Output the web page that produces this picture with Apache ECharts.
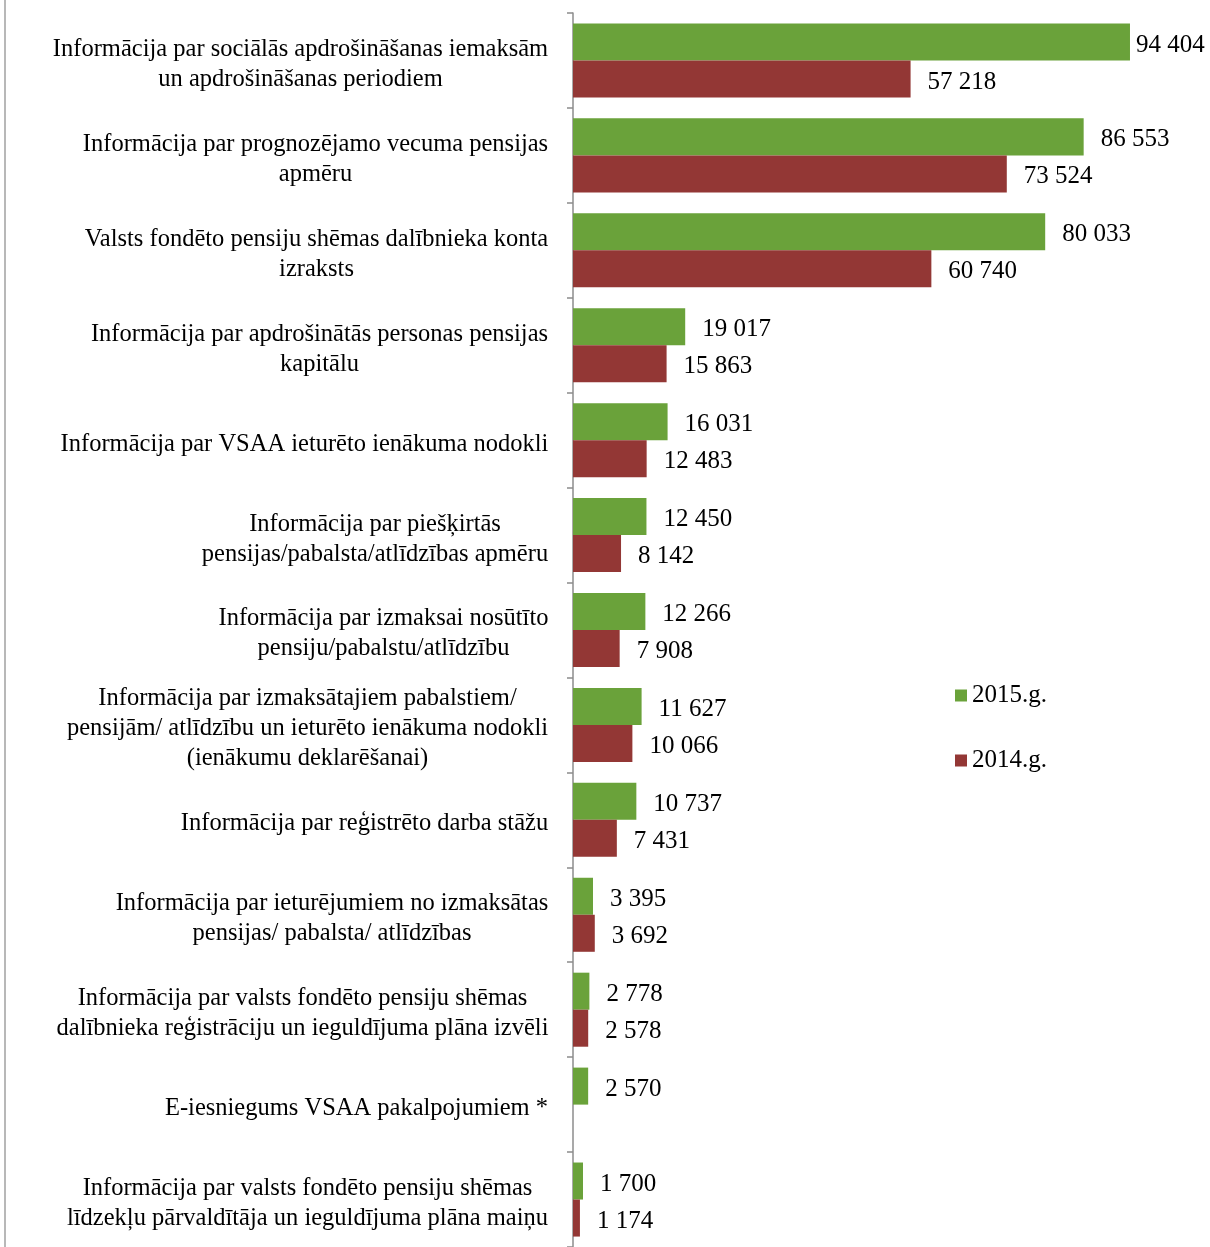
<!DOCTYPE html>
<html>
<head>
<meta charset="utf-8">
<script src="https://cdn.jsdelivr.net/npm/echarts@6/dist/echarts.min.js"></script>
<style>
html,body{margin:0;padding:0;background:#fff;}
#chart{width:1210px;height:1247px;}
</style>
</head>
<body>
<div id="chart"></div>
<script>
const categories = [
  "Informācija par sociālās apdrošināšanas iemaksām\nun apdrošināšanas periodiem",
  "Informācija par prognozējamo vecuma pensijas\napmēru",
  "Valsts fondēto pensiju shēmas dalībnieka konta\nizraksts",
  "Informācija par apdrošinātās personas pensijas\nkapitālu",
  "Informācija par VSAA ieturēto ienākuma nodokli",
  "Informācija par piešķirtās\npensijas/pabalsta/atlīdzības apmēru",
  "Informācija par izmaksai nosūtīto\npensiju/pabalstu/atlīdzību",
  "Informācija par izmaksātajiem pabalstiem/\npensijām/ atlīdzību un ieturēto ienākuma nodokli\n(ienākumu deklarēšanai)",
  "Informācija par reģistrēto darba stāžu",
  "Informācija par ieturējumiem no izmaksātas\npensijas/ pabalsta/ atlīdzības",
  "Informācija par valsts fondēto pensiju shēmas\ndalībnieka reģistrāciju un ieguldījuma plāna izvēli",
  "E-iesniegums VSAA pakalpojumiem *",
  "Informācija par valsts fondēto pensiju shēmas\nlīdzekļu pārvaldītāja un ieguldījuma plāna maiņu"
];
const values2015 = [94404, 86553, 80033, 19017, 16031, 12450, 12266, 11627, 10737, 3395, 2778, 2570, 1700];
const values2014 = [57218, 73524, 60740, 15863, 12483, 8142, 7908, 10066, 7431, 3692, 2578, null, 1174];
const seriesNames = ["2015.g.", "2014.g."];

const FONT = "'Liberation Serif', 'Times New Roman', serif";
const CAT_SIZE = 24.5;
const VAL_SIZE = 25;
function fmt(v){ return String(v).replace(/\B(?=(\d{3})+(?!\d))/g, ' '); }

// measure each category block so that its lines can be centred within the block
const ctx = document.createElement('canvas').getContext('2d');
ctx.font = CAT_SIZE + "px 'Liberation Serif'";
const rich = {};
categories.forEach((c, i) => {
  const w = Math.max.apply(null, c.split('\n').map(l => ctx.measureText(l).width));
  rich['c' + i] = {width: Math.ceil(w) + 1, align: 'center', fontFamily: FONT, fontSize: CAT_SIZE, lineHeight: 30, color: '#000'};
});

const chart = echarts.init(document.getElementById('chart'), null, {renderer:'canvas'});
const labelCfg = {
  show: true, position: 'right', distance: 17, offset: [0, 3],
  fontFamily: FONT, fontSize: VAL_SIZE, color: '#000',
  formatter: p => fmt(p.value)
};
chart.setOption({
  animation: false,
  backgroundColor: '#fff',
  grid: {left: 573, top: 13, width: 590, height: 1240, containLabel: false},
  xAxis: {type: 'value', min: 0, max: 100000, show: false},
  yAxis: {
    type: 'category', data: categories, inverse: true,
    axisLine: {show: true, lineStyle: {color: '#8c8c8c', width: 1.5}},
    axisTick: {show: true, length: 6, lineStyle: {color: '#8c8c8c', width: 1.5}},
    axisLabel: {
      margin: 24, align: 'right', padding: [8, 0, 0, 0],
      fontFamily: FONT, fontSize: CAT_SIZE, color: '#000', lineHeight: 30,
      formatter: (v, i) => v.split('\n').map(l => '{c' + i + '|' + l + '}').join('\n'),
      rich: rich
    }
  },
  legend: {
    orient: 'vertical', left: 950, top: 678, itemGap: 40,
    itemWidth: 12, itemHeight: 12, icon: 'rect',
    textStyle: {fontFamily: FONT, fontSize: 25, color: '#000'},
    data: seriesNames
  },
  series: [
    {name: seriesNames[0], type: 'bar',
     data: values2015.map((v, i) => i === 0 ? {value: v, label: {distance: 6}} : v),
     barGap: '0%', barCategoryGap: '22%',
     itemStyle: {color: '#6aa23a'}, label: labelCfg},
    {name: seriesNames[1], type: 'bar', data: values2014, barGap: '0%', barCategoryGap: '22%',
     itemStyle: {color: '#933735'}, label: labelCfg}
  ],
  graphic: [{type: 'line', shape: {x1: 5, y1: 0, x2: 5, y2: 1247}, style: {stroke: '#a0a0a0', lineWidth: 1.5}}]
});
</script>
</body>
</html>
